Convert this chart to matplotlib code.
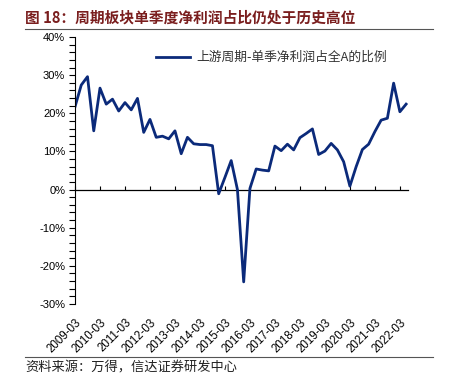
import matplotlib
matplotlib.use("Agg")
import matplotlib.pyplot as plt
from matplotlib.ticker import MultipleLocator, FuncFormatter
import numpy as np

# quarterly share (%) of upstream cyclical sector net profit in all-A
values = [21.7, 27.4, 29.6, 15.4, 26.6, 22.4, 23.7, 20.6, 22.8, 20.9,
          23.9, 15.0, 18.4, 13.7, 14.0, 13.3, 15.4, 9.4, 13.7, 12.0,
          11.8, 11.8, 11.5, -1.1, 3.2, 7.6, 0.0, -24.2, 0.3, 5.4,
          5.1, 4.9, 11.4, 10.2, 11.9, 10.4, 13.6, 14.7, 15.9, 9.2,
          10.1, 12.1, 10.4, 7.3, 0.9, 6.0, 10.5, 11.9, 15.2, 18.2,
          18.7, 27.9, 20.4, 22.4]
years = list(range(2009, 2023))
tick_labels = ["%d-03" % y for y in years]
series_name = "上游周期-单季净利润占全A的比例"
title = "图 18：周期板块单季度净利润占比仍处于历史高位"
source = "资料来源：万得，信达证券研发中心"

plt.rcParams['font.family'] = ['Liberation Sans', 'Noto Sans CJK SC', 'DejaVu Sans']

fig = plt.figure(figsize=(4.51, 3.79), dpi=100)
ax = fig.add_axes([75/451, 75/379, 333/451, 267/379])

x = np.arange(len(values))
ax.plot(x, values, color='#0B2A7A', lw=2.0, label=series_name)

ax.set_xlim(0, len(values) - 0.7)
ax.set_ylim(-30, 40)
ax.yaxis.set_major_locator(MultipleLocator(10))
ax.yaxis.set_minor_locator(MultipleLocator(2))
ax.yaxis.set_major_formatter(FuncFormatter(lambda v, p: "%d%%" % v))
ax.tick_params(axis='y', which='both', direction='out', length=4, width=0.8,
               labelsize=8, pad=3)

tick_pos = [4 * i for i in range(len(years))]
ax.set_xticks(tick_pos)
ax.set_xticklabels(tick_labels, rotation=45, ha='right', rotation_mode='anchor',
                   fontsize=8.3)
ax.tick_params(axis='x', length=0, pad=9)

for s in ['top', 'right', 'bottom']:
    ax.spines[s].set_visible(False)
ax.spines['left'].set_linewidth(0.8)

# zero line with the quarter ticks pointing up
zero_loc = (0 - (-30)) / 70.0
sec = ax.secondary_xaxis(zero_loc)
sec.set_xticks(tick_pos)
sec.tick_params(direction='in', length=3, width=0.8, labelbottom=False,
                labeltop=False)
sec.spines['bottom'].set_linewidth(0.9)

leg = ax.legend(loc='upper left', bbox_to_anchor=(0.21, 0.99), frameon=False,
                prop={'family': ['Noto Sans CJK SC'], 'size': 9.2},
                handlelength=2.6, handletextpad=0.5)
for t in leg.get_texts():
    t.set_color('#333333')

fig.text(25/451, 1 - 18/379, title, fontsize=10.6, fontweight='bold',
         color='#7A1E1E', family=['Noto Sans CJK SC'], va='center', ha='left')
fig.add_artist(plt.Line2D([25/451, 433/451], [1 - 29/379, 1 - 29/379],
                          color='#555555', lw=0.8))
fig.add_artist(plt.Line2D([25/451, 433/451], [1 - 357/379, 1 - 357/379],
                          color='#555555', lw=0.8))
fig.text(25/451, 1 - 368/379, source, fontsize=9.5, color='#222222',
         family=['Noto Sans CJK SC'], va='center', ha='left')

fig.savefig('out.png', dpi=100)
